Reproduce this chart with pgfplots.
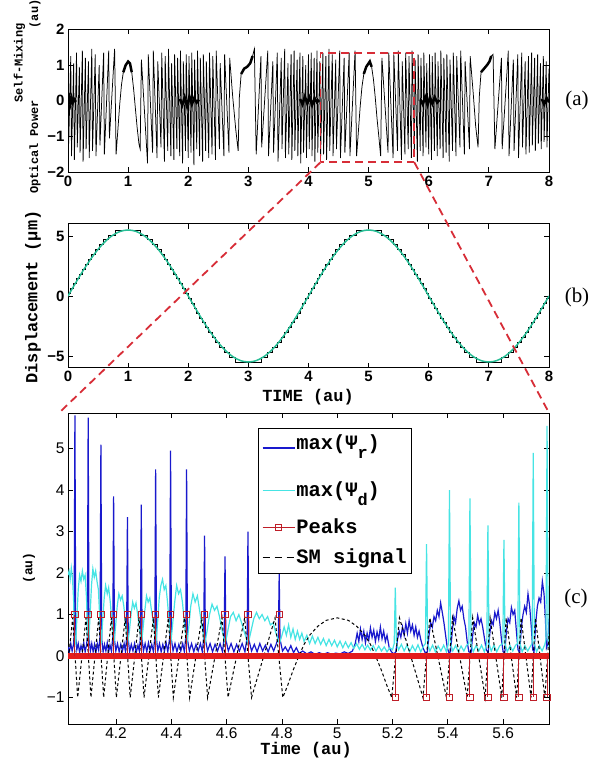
\documentclass[border=0pt]{standalone}
\usepackage{fontspec}
\usepackage{pgfplots}
\pgfplotsset{compat=1.18}

\newfontfamily\mono{Liberation Mono}
\newfontfamily\hel{Liberation Sans}
\newfontfamily\tim{Liberation Serif}

\definecolor{psir}{RGB}{25,25,205}
\definecolor{psid}{RGB}{70,228,228}
\definecolor{pkred}{RGB}{228,28,28}
\definecolor{pkdark}{RGB}{190,30,40}
\definecolor{dispgreen}{RGB}{40,190,150}
\definecolor{zoomred}{RGB}{215,45,55}

\tikzset{legshift/.store in=\legshift, legshift=6bp}

\pgfplotsset{
  panel/.style={
    scale only axis, width=481bp, anchor=south west,
    axis line style={line width=1bp},
    every tick/.style={black, line width=0.8bp},
    major tick length=5bp,
    tick align=inside,
    /pgf/number format/assume math mode=true,
  },
  boldticks/.style={ticklabel style={font=\hel\bfseries\fontsize{15}{18}\selectfont}},
}

\begin{document}
\begin{tikzpicture}[x=1bp,y=1bp]
\path[use as bounding box] (0bp,0bp) rectangle (589bp,758bp);

% ---------------- (a) self-mixing signal
\begin{axis}[panel, boldticks, at={(68bp,585.7bp)}, height=143bp,
  xmin=0, xmax=8, ymin=-2, ymax=2,
  xtick={0,1,2,3,4,5,6,7,8}, ytick={-2,-1,0,1,2}, yticklabels={−2,−1,0,1,2}]
\addplot[black, line width=0.75bp] coordinates {
(0,1.3)(0.012,-1.2)(0.046,1.25)(0.058,-1.55)(0.094,1.05)(0.106,-1.65)(0.142,1.35)(0.154,-1.3)(0.189,0.95)(0.201,-1.45)
(0.239,1.4)(0.251,-1.7)(0.289,1.2)(0.301,-1.35)(0.341,1.1)(0.353,-1.6)(0.396,1.45)(0.408,-1.4)(0.453,1.3)(0.465,-1.55)
(0.519,1.0)(0.531,-1.25)(0.593,1.35)(0.605,-1.5)(0.677,1.4)(0.689,-1.05)(0.775,1.45)(0.8,-1.5)
(0.83,-0.8)(0.86,-0.1)(0.89,0.45)(0.92,0.8)(0.96,1.0)(1.0,1.1)(1.03,1.05)(1.06,0.8)(1.09,0.35)(1.12,-0.2)(1.15,-0.75)(1.18,-1.2)(1.2,-1.35)
(1.221,1.15)(1.323,-1.75)(1.335,1.3)(1.407,-1.45)(1.419,1.4)(1.481,-1.6)(1.493,1.1)(1.547,-1.3)(1.559,1.35)(1.604,-1.7)
(1.616,1.25)(1.659,-1.4)(1.671,1.45)(1.711,-1.55)(1.723,1.05)(1.761,-1.65)(1.773,1.3)(1.811,-1.35)(1.823,1.2)(1.858,-1.55)
(1.87,1.4)(1.906,-1.75)(1.918,1.1)(1.954,-1.4)(1.966,1.3)(2.0,-1.6)(2.012,1.25)(2.046,-1.45)(2.058,1.35)(2.094,-1.8)
(2.106,1.15)(2.142,-1.35)(2.154,1.4)(2.189,-1.55)(2.201,1.2)(2.239,-1.7)(2.251,1.3)(2.289,-1.4)(2.301,1.1)(2.341,-1.6)
(2.353,1.35)(2.396,-1.5)(2.408,1.25)(2.453,-1.65)(2.465,1.4)(2.519,-1.35)(2.531,1.05)(2.593,-1.55)(2.605,1.3)(2.677,-1.45)(2.689,1.2)
(2.74,0.1)(2.79,-0.8)(2.83,-1.4)(2.85,0.1)(2.88,0.75)(2.93,0.9)(2.98,0.95)(3.03,1.05)(3.07,1.25)(3.1,1.45)(3.13,-1.5)
(3.209,1.25)(3.221,-1.3)(3.323,1.4)(3.335,-1.55)(3.407,1.1)(3.419,-1.45)(3.481,1.35)(3.493,-1.7)(3.547,1.2)(3.559,-1.35)
(3.604,1.45)(3.616,-1.6)(3.659,1.05)(3.671,-1.5)(3.711,1.3)(3.723,-1.65)(3.761,1.4)(3.773,-1.4)(3.811,1.15)(3.823,-1.55)
(3.858,1.35)(3.87,-1.75)(3.906,1.25)(3.918,-1.45)(3.954,1.0)(3.966,-1.6)(4.0,1.3)(4.012,-1.35)(4.046,1.35)(4.058,-1.55)
(4.094,1.2)(4.106,-1.7)(4.142,1.4)(4.154,-1.45)(4.189,1.1)(4.201,-1.6)(4.239,1.35)(4.251,-1.5)(4.289,1.25)(4.301,-1.65)
(4.341,1.45)(4.353,-1.4)(4.396,1.3)(4.408,-1.55)(4.453,1.15)(4.465,-1.35)(4.519,1.4)(4.531,-1.6)(4.593,1.2)(4.605,-1.45)
(4.677,1.35)(4.689,-1.55)(4.775,1.4)(4.8,-1.55)
(4.83,-0.85)(4.86,-0.15)(4.89,0.4)(4.92,0.75)(4.96,0.95)(5.0,1.05)(5.02,1.1)(5.05,0.95)(5.08,0.6)(5.11,0.1)(5.14,-0.5)(5.17,-1.0)(5.2,-1.55)
(5.221,1.2)(5.323,-1.45)(5.335,1.35)(5.407,-1.6)(5.419,1.3)(5.481,-1.4)(5.493,1.4)(5.547,-1.65)(5.559,1.1)(5.604,-1.5)
(5.616,1.35)(5.659,-1.35)(5.671,1.25)(5.711,-1.6)(5.723,1.4)(5.761,-1.45)(5.773,1.15)(5.811,-1.7)(5.823,1.3)(5.858,-1.4)
(5.87,1.2)(5.906,-1.55)(5.918,1.35)(5.954,-1.3)(5.966,1.05)(6.0,-1.5)(6.012,1.3)(6.046,-1.65)(6.058,1.25)(6.094,-1.4)
(6.106,1.35)(6.142,-1.55)(6.154,1.1)(6.189,-1.35)(6.201,1.4)(6.239,-1.6)(6.251,1.2)(6.289,-1.45)(6.301,1.3)(6.341,-1.7)
(6.353,1.15)(6.396,-1.4)(6.408,1.35)(6.453,-1.55)(6.465,1.25)(6.519,-1.3)(6.531,1.4)(6.593,-1.5)(6.605,1.1)(6.677,-1.35)(6.689,1.25)
(6.74,0.2)(6.78,-0.7)(6.82,-1.3)(6.84,0.1)(6.87,0.8)(6.92,0.9)(6.97,1.0)(7.01,1.1)(7.04,1.25)(7.07,1.3)(7.1,-1.35)
(7.209,1.2)(7.221,-1.35)(7.323,1.4)(7.335,-1.55)(7.407,1.15)(7.419,-1.4)(7.481,1.3)(7.493,-1.6)(7.547,1.35)(7.559,-1.3)
(7.604,1.1)(7.616,-1.5)(7.659,1.25)(7.671,-1.45)(7.711,1.35)(7.723,-1.25)(7.761,1.2)(7.773,-1.4)(7.811,1.3)(7.823,-1.2)
(7.858,1.05)(7.87,-1.35)(7.906,1.25)(7.918,-1.15)(7.954,1.1)(7.966,-1.3)(8.0,0.9)
};
% noisy bands around zero and the thick tops of the slow fringes
\addplot[black, line width=2.5bp] coordinates {(0.0,0.0)(0.02,0.1)(0.04,-0.08)(0.06,0.08)(0.08,-0.05)(0.1,0.05)(0.13,-0.03)};
\addplot[black, line width=2.5bp] coordinates {(1.86,0.05)(1.9,-0.12)(1.94,0.1)(1.98,-0.15)(2.02,0.12)(2.06,-0.1)(2.1,0.08)(2.14,-0.05)(2.18,0.03)};
\addplot[black, line width=2.5bp] coordinates {(3.86,0.05)(3.9,-0.1)(3.94,0.12)(3.98,-0.08)(4.02,0.1)(4.06,-0.12)(4.1,0.08)(4.14,-0.04)(4.18,0.02)};
\addplot[black, line width=2.5bp] coordinates {(5.86,0.04)(5.9,-0.1)(5.94,0.1)(5.98,-0.12)(6.02,0.1)(6.06,-0.08)(6.1,0.1)(6.14,-0.05)(6.18,0.02)};
\addplot[black, line width=2.5bp] coordinates {(7.88,0.05)(7.92,-0.1)(7.96,0.08)(8.0,-0.04)};
\addplot[black, line width=2.5bp] coordinates {(0.92,0.8)(0.96,1.0)(1.0,1.1)(1.03,1.05)(1.06,0.8)};
\addplot[black, line width=2.5bp] coordinates {(2.88,0.75)(2.93,0.9)(2.98,0.95)(3.03,1.05)(3.07,1.25)};
\addplot[black, line width=2.5bp] coordinates {(4.92,0.75)(4.96,0.95)(5.0,1.05)(5.02,1.1)(5.05,0.95)};
\addplot[black, line width=2.5bp] coordinates {(6.87,0.8)(6.92,0.9)(6.97,1.0)(7.01,1.1)(7.04,1.25)};
\draw[zoomred, line width=1.8bp, dash pattern=on 8bp off 5bp] (axis cs:4.2,-1.72) rectangle (axis cs:5.76,1.34);
\coordinate (zl) at (axis cs:4.2,-1.72);
\coordinate (zr) at (axis cs:5.76,-1.72);
\end{axis}

% ---------------- (b) displacement
\begin{axis}[panel, boldticks, at={(68bp,390bp)}, height=144bp,
  xmin=0, xmax=8, ymin=-6, ymax=6,
  xtick={0,1,2,3,4,5,6,7,8}, ytick={-5,0,5}, yticklabels={−5,0,5}]
\addplot[black, line width=0.8bp, const plot] coordinates {
(0,0.2)(0.046,0.61)(0.094,1.02)(0.142,1.43)(0.189,1.84)(0.239,2.24)(0.289,2.65)(0.341,3.06)(0.396,3.47)(0.453,3.87)(0.519,4.28)(0.593,4.69)(0.677,5.09)(0.791,5.5)
(1.209,5.09)(1.323,4.69)(1.407,4.28)(1.481,3.87)(1.547,3.47)(1.604,3.06)(1.659,2.65)(1.711,2.24)(1.761,1.84)(1.811,1.43)(1.858,1.02)(1.906,0.61)(1.954,0.2)
(2.0,-0.2)(2.046,-0.61)(2.094,-1.02)(2.142,-1.43)(2.189,-1.84)(2.239,-2.24)(2.289,-2.65)(2.341,-3.06)(2.396,-3.47)(2.453,-3.87)(2.519,-4.28)(2.593,-4.69)(2.677,-5.09)(2.791,-5.5)
(3.209,-5.09)(3.323,-4.69)(3.407,-4.28)(3.481,-3.87)(3.547,-3.47)(3.604,-3.06)(3.659,-2.65)(3.711,-2.24)(3.761,-1.84)(3.811,-1.43)(3.858,-1.02)(3.906,-0.61)(3.954,-0.2)
(4.0,0.2)(4.046,0.61)(4.094,1.02)(4.142,1.43)(4.189,1.84)(4.239,2.24)(4.289,2.65)(4.341,3.06)(4.396,3.47)(4.453,3.87)(4.519,4.28)(4.593,4.69)(4.677,5.09)(4.791,5.5)
(5.209,5.09)(5.323,4.69)(5.407,4.28)(5.481,3.87)(5.547,3.47)(5.604,3.06)(5.659,2.65)(5.711,2.24)(5.761,1.84)(5.811,1.43)(5.858,1.02)(5.906,0.61)(5.954,0.2)
(6.0,-0.2)(6.046,-0.61)(6.094,-1.02)(6.142,-1.43)(6.189,-1.84)(6.239,-2.24)(6.289,-2.65)(6.341,-3.06)(6.396,-3.47)(6.453,-3.87)(6.519,-4.28)(6.593,-4.69)(6.677,-5.09)(6.791,-5.5)
(7.209,-5.09)(7.323,-4.69)(7.407,-4.28)(7.481,-3.87)(7.547,-3.47)(7.604,-3.06)(7.659,-2.65)(7.711,-2.24)(7.761,-1.84)(7.811,-1.43)(7.858,-1.02)(7.906,-0.61)(7.954,-0.2)
(8.0,0.0)
};
\addplot[dispgreen, line width=1.5bp, smooth] coordinates {
(0,0)(0.125,1.073)(0.25,2.105)(0.375,3.056)(0.5,3.889)(0.625,4.573)(0.75,5.081)(0.875,5.394)(1,5.5)
(1.125,5.394)(1.25,5.081)(1.375,4.573)(1.5,3.889)(1.625,3.056)(1.75,2.105)(1.875,1.073)(2,0)
(2.125,-1.073)(2.25,-2.105)(2.375,-3.056)(2.5,-3.889)(2.625,-4.573)(2.75,-5.081)(2.875,-5.394)(3,-5.5)
(3.125,-5.394)(3.25,-5.081)(3.375,-4.573)(3.5,-3.889)(3.625,-3.056)(3.75,-2.105)(3.875,-1.073)(4,0)
(4.125,1.073)(4.25,2.105)(4.375,3.056)(4.5,3.889)(4.625,4.573)(4.75,5.081)(4.875,5.394)(5,5.5)
(5.125,5.394)(5.25,5.081)(5.375,4.573)(5.5,3.889)(5.625,3.056)(5.75,2.105)(5.875,1.073)(6,0)
(6.125,-1.073)(6.25,-2.105)(6.375,-3.056)(6.5,-3.889)(6.625,-4.573)(6.75,-5.081)(6.875,-5.394)(7,-5.5)
(7.125,-5.394)(7.25,-5.081)(7.375,-4.573)(7.5,-3.889)(7.625,-3.056)(7.75,-2.105)(7.875,-1.073)(8,0)
};
\end{axis}

% ---------------- (c) zoom on the fringes
\begin{axis}[panel, at={(68bp,34bp)}, height=311bp,
  xmin=4.026, xmax=5.766, ymin=-1.64, ymax=5.86,
  xtick={4.2,4.4,4.6,4.8,5,5.2,5.4,5.6},
  ytick={-1,0,1,2,3,4,5}, yticklabels={−1,0,1,2,3,4,5},
  ticklabel style={font=\hel\fontsize{15.5}{18}\selectfont},
  legend image code/.code={\path (0bp,0bp) (32bp,0bp);
    \draw[mark repeat=2,mark phase=2,#1] plot coordinates {(0bp,\legshift) (16bp,\legshift) (32bp,\legshift)};},
  legend style={at={(0.394,0.952)}, anchor=north west, draw=black, line width=0.9bp, fill=white,
    inner xsep=4bp, inner ysep=0bp, row sep=0bp,
    font=\mono\bfseries\fontsize{20.5}{24}\selectfont,
    nodes={inner xsep=1bp, inner ysep=0bp, text depth=, text height=}, cells={anchor=base west}}]
\addlegendimage{psir, line width=1.3bp, legshift=1.5bp}
\addlegendentry{\rule[-30bp]{0pt}{51bp}max(Ψ\raisebox{-9bp}{\fontsize{17}{17}\selectfont r})}
\addlegendimage{psid, line width=1.3bp, legshift=6bp}
\addlegendentry{\rule[-20bp]{0pt}{37bp}max(Ψ\raisebox{-9bp}{\fontsize{17}{17}\selectfont d})}
\addlegendimage{pkdark, line width=1bp, mark=square, mark size=3bp, mark options={solid}, legshift=6bp}
\addlegendentry{\rule[-13bp]{0pt}{30bp}Peaks}
\addlegendimage{black, line width=1bp, dash pattern=on 7bp off 5bp, legshift=6bp}
\addlegendentry{\rule[-10bp]{0pt}{27bp}SM signal}

% max(Psi_r)
\addplot[psir, line width=1.2bp, forget plot] coordinates {
(4.026,0.22)(4.031,0.1)(4.036,0.3)(4.041,0.12)(4.046,0.28)(4.048,0.45)(4.051,5.8)(4.054,0.45)(4.058,0.15)(4.063,0.3)
(4.068,0.08)(4.073,0.25)(4.078,0.12)(4.083,0.32)(4.088,0.1)(4.093,0.26)(4.096,0.45)(4.099,5.75)(4.102,0.45)(4.107,0.12)
(4.112,0.3)(4.117,0.1)(4.122,0.28)(4.127,0.08)(4.132,0.3)(4.137,0.14)(4.142,0.45)(4.145,5.1)(4.148,0.4)(4.153,0.1)
(4.158,0.28)(4.163,0.12)(4.168,0.32)(4.173,0.1)(4.178,0.26)(4.183,0.12)(4.188,0.45)(4.191,3.85)(4.194,0.4)(4.199,0.12)
(4.205,0.3)(4.211,0.1)(4.217,0.28)(4.223,0.12)(4.229,0.3)(4.234,0.1)(4.238,0.45)(4.241,3.35)(4.244,0.4)(4.249,0.1)
(4.255,0.28)(4.261,0.12)(4.267,0.3)(4.273,0.08)(4.279,0.26)(4.284,0.12)(4.288,0.45)(4.291,3.65)(4.294,0.4)(4.299,0.12)
(4.305,0.3)(4.311,0.1)(4.317,0.32)(4.323,0.12)(4.329,0.28)(4.335,0.1)(4.340,0.45)(4.343,4.5)(4.346,0.4)(4.351,0.12)
(4.357,0.3)(4.363,0.1)(4.369,0.28)(4.375,0.12)(4.381,0.32)(4.387,0.1)(4.394,0.45)(4.397,4.95)(4.400,0.4)(4.406,0.12)
(4.413,0.3)(4.420,0.1)(4.427,0.28)(4.434,0.12)(4.441,0.3)(4.447,0.1)(4.452,0.45)(4.455,4.5)(4.458,0.4)(4.465,0.12)
(4.473,0.3)(4.481,0.1)(4.489,0.28)(4.497,0.12)(4.505,0.3)(4.512,0.1)(4.517,0.45)(4.520,2.9)(4.523,0.4)(4.531,0.12)
(4.540,0.3)(4.549,0.1)(4.558,0.28)(4.567,0.12)(4.576,0.3)(4.585,0.1)(4.591,0.45)(4.594,2.4)(4.597,0.4)(4.606,0.12)
(4.616,0.3)(4.626,0.1)(4.636,0.28)(4.646,0.12)(4.656,0.3)(4.666,0.1)(4.674,0.45)(4.677,3.0)(4.680,0.4)(4.690,0.12)
(4.700,0.28)(4.710,0.1)(4.720,0.3)(4.730,0.12)(4.740,0.26)(4.750,0.1)(4.760,0.28)(4.770,0.12)(4.780,0.3)(4.787,0.45)
(4.790,2.0)(4.793,0.4)(4.802,0.12)(4.812,0.22)(4.822,0.1)(4.832,0.25)(4.842,0.08)(4.852,0.2)(4.862,0.06)(4.875,0.12)
(4.890,0.05)(4.905,0.1)(4.920,0.04)(4.935,0.08)(4.950,0.04)(4.965,0.08)(4.980,0.04)(4.995,0.07)(5.010,0.05)(5.025,0.1)
(5.040,0.06)(5.055,0.12)(5.065,0.3)(5.072,0.55)(5.078,0.35)(5.084,0.65)(5.090,0.4)(5.096,0.6)(5.102,0.32)(5.108,0.55)
(5.114,0.38)(5.120,0.68)(5.126,0.45)(5.132,0.62)(5.138,0.35)(5.144,0.58)(5.150,0.4)(5.156,0.7)(5.162,0.42)(5.168,0.6)
(5.174,0.35)(5.180,0.5)(5.188,0.2)(5.196,0.1)(5.205,0.05)(5.212,0.1)(5.218,0.4)(5.224,0.6)(5.230,0.45)(5.236,0.7)
(5.242,0.5)(5.248,0.78)(5.254,0.55)(5.260,0.85)(5.266,0.6)(5.272,0.75)(5.278,0.5)(5.284,0.7)(5.290,0.45)(5.296,0.6)
(5.302,0.4)(5.310,0.2)(5.318,0.08)(5.326,0.1)(5.332,0.5)(5.338,0.8)(5.344,0.7)(5.350,0.95)(5.356,0.85)(5.362,1.1)
(5.368,0.95)(5.374,1.28)(5.380,1.05)(5.386,0.8)(5.392,0.5)(5.398,0.2)(5.404,0.08)(5.410,0.1)(5.416,0.6)(5.422,0.95)
(5.428,0.8)(5.434,1.15)(5.440,1.33)(5.446,1.1)(5.452,1.2)(5.458,0.9)(5.464,0.7)(5.470,0.35)(5.476,0.1)(5.484,0.08)
(5.490,0.5)(5.496,0.8)(5.502,0.7)(5.508,0.98)(5.514,0.78)(5.520,0.9)(5.526,0.7)(5.532,0.45)(5.539,0.15)(5.546,0.08)
(5.552,0.55)(5.558,0.85)(5.564,0.75)(5.570,1.05)(5.576,0.9)(5.582,1.1)(5.588,0.8)(5.594,0.4)(5.600,0.1)(5.606,0.08)
(5.612,0.6)(5.618,0.9)(5.624,0.8)(5.630,1.17)(5.636,1.0)(5.642,1.1)(5.648,0.6)(5.654,0.15)(5.660,0.08)(5.666,0.7)
(5.672,1.0)(5.678,1.2)(5.684,1.05)(5.690,1.5)(5.696,1.2)(5.702,0.7)(5.707,0.15)(5.712,0.1)(5.718,0.8)(5.724,1.2)
(5.730,1.4)(5.736,1.3)(5.742,1.8)(5.748,1.5)(5.753,0.9)(5.757,0.2)(5.762,0.3)(5.766,0.9)
};
% max(Psi_d)
\addplot[psid, line width=1.2bp, forget plot] coordinates {
(4.026,1.95)(4.030,2.05)(4.034,1.85)(4.038,2.12)(4.042,1.9)(4.046,1.4)(4.050,0.4)(4.054,0.3)
(4.058,0.9)(4.063,1.6)(4.068,1.95)(4.073,1.8)(4.078,2.05)(4.083,1.85)(4.088,1.95)(4.093,1.4)(4.097,0.5)(4.101,0.3)
(4.106,1.0)(4.111,1.7)(4.116,2.1)(4.121,1.9)(4.126,2.05)(4.131,1.8)(4.136,1.6)(4.141,0.9)(4.146,0.3)
(4.151,0.8)(4.157,1.4)(4.162,1.7)(4.168,1.5)(4.173,1.65)(4.179,1.3)(4.185,0.8)(4.192,0.3)
(4.198,0.7)(4.204,1.2)(4.210,1.5)(4.216,1.35)(4.222,1.45)(4.228,1.2)(4.234,0.8)(4.242,0.3)
(4.248,0.6)(4.254,1.0)(4.260,1.3)(4.266,1.15)(4.272,1.28)(4.278,1.0)(4.284,0.7)(4.292,0.3)
(4.298,0.7)(4.304,1.1)(4.310,1.45)(4.316,1.3)(4.322,1.4)(4.328,1.1)(4.335,0.8)(4.344,0.3)
(4.350,0.8)(4.356,1.4)(4.362,1.7)(4.368,1.85)(4.374,1.6)(4.380,1.7)(4.386,1.3)(4.392,0.8)(4.398,0.3)
(4.405,0.8)(4.412,1.3)(4.419,1.7)(4.426,1.5)(4.433,1.6)(4.440,1.3)(4.447,0.8)(4.456,0.3)
(4.463,0.7)(4.470,1.2)(4.478,1.5)(4.486,1.3)(4.494,1.45)(4.502,1.1)(4.511,0.7)(4.521,0.3)
(4.529,0.6)(4.538,1.0)(4.547,1.25)(4.556,1.1)(4.565,1.2)(4.574,0.95)(4.584,0.6)(4.595,0.3)
(4.604,0.6)(4.614,0.95)(4.624,1.05)(4.634,0.85)(4.644,1.0)(4.654,0.8)(4.665,0.55)(4.678,0.3)
(4.688,0.6)(4.698,0.9)(4.708,1.05)(4.718,0.9)(4.728,1.0)(4.738,0.85)(4.748,0.95)(4.758,0.75)(4.768,0.8)(4.778,0.55)(4.791,0.3)
(4.800,0.5)(4.808,0.7)(4.816,0.5)(4.824,0.75)(4.832,0.45)(4.840,0.65)(4.848,0.4)(4.856,0.6)(4.864,0.4)(4.872,0.55)
(4.880,0.35)(4.890,0.5)(4.900,0.3)(4.910,0.48)(4.920,0.3)(4.930,0.45)(4.940,0.28)(4.950,0.42)(4.960,0.25)(4.970,0.4)
(4.980,0.25)(4.990,0.38)(5.000,0.22)(5.010,0.36)(5.020,0.2)(5.030,0.34)(5.040,0.2)(5.050,0.32)(5.060,0.18)(5.070,0.3)
(5.080,0.16)(5.090,0.28)(5.100,0.15)(5.110,0.26)(5.120,0.14)(5.130,0.25)(5.140,0.12)(5.150,0.24)(5.160,0.12)(5.170,0.22)
(5.180,0.1)(5.190,0.2)(5.200,0.15)
(5.206,0.3)(5.210,1.65)(5.214,0.3)(5.222,0.15)(5.232,0.28)(5.242,0.12)(5.252,0.26)(5.262,0.1)(5.272,0.25)(5.282,0.12)
(5.292,0.27)(5.302,0.1)(5.312,0.24)(5.319,0.3)(5.323,2.7)(5.327,0.3)(5.335,0.12)(5.345,0.26)(5.355,0.1)(5.365,0.24)
(5.375,0.12)(5.385,0.26)(5.395,0.1)(5.402,0.3)(5.406,4.0)(5.410,0.3)(5.418,0.12)(5.428,0.25)(5.438,0.1)(5.448,0.24)
(5.458,0.12)(5.468,0.26)(5.476,0.3)(5.480,3.8)(5.484,0.3)(5.492,0.1)(5.502,0.25)(5.512,0.12)(5.522,0.26)(5.532,0.1)
(5.541,0.3)(5.545,3.15)(5.549,0.3)(5.557,0.12)(5.567,0.26)(5.577,0.1)(5.587,0.24)(5.599,0.3)(5.603,2.8)(5.607,0.3)
(5.615,0.1)(5.625,0.25)(5.635,0.12)(5.645,0.26)(5.653,0.3)(5.657,3.7)(5.661,0.3)(5.669,0.1)(5.679,0.25)(5.689,0.12)
(5.699,0.24)(5.705,0.3)(5.709,4.9)(5.713,0.3)(5.721,0.1)(5.731,0.25)(5.741,0.12)(5.751,0.28)(5.755,0.4)(5.759,5.55)
(5.763,0.4)(5.766,0.2)
};
% SM signal
\addplot[black, line width=1bp, dash pattern=on 3bp off 2.5bp, forget plot] coordinates {
(4.026,-0.17)(4.043,0.92)(4.061,-1)(4.091,0.92)(4.109,-1)(4.137,0.92)(4.155,-1)(4.183,0.92)(4.201,-1)(4.233,0.92)
(4.251,-1)(4.283,0.92)(4.301,-1)(4.335,0.92)(4.353,-1)(4.389,0.92)(4.407,-1)(4.447,0.92)(4.466,-1)(4.510,0.92)
(4.531,-1)(4.583,0.92)(4.605,-1)(4.665,0.92)(4.690,-1)(4.775,0.92)(4.803,-1)
(4.82,-0.72)(4.84,-0.35)(4.86,-0.02)(4.88,0.28)(4.90,0.5)(4.93,0.72)(4.96,0.86)(5.0,0.92)(5.04,0.86)(5.07,0.72)
(5.10,0.5)(5.12,0.28)(5.14,-0.02)(5.16,-0.35)(5.18,-0.72)(5.197,-1)
(5.225,0.92)(5.310,-1)(5.335,0.92)(5.395,-1)(5.417,0.92)(5.470,-1)(5.490,0.92)(5.535,-1)(5.553,0.92)(5.595,-1)
(5.611,0.92)(5.649,-1)(5.665,0.92)(5.701,-1)(5.717,0.92)(5.751,-1)(5.766,0.5)
};
% Peaks: dense zero samples and the detected peaks
\addplot[pkred, line width=6bp, forget plot] coordinates {(4.026,0)(5.766,0)};
\addplot[pkdark, line width=0.9bp, ycomb, mark=square, mark size=3.2bp, mark options={solid, line width=1bp}, forget plot] coordinates {
(4.051,1)(4.099,1)(4.145,1)(4.191,1)(4.241,1)(4.291,1)(4.343,1)(4.397,1)(4.455,1)(4.520,1)(4.594,1)(4.677,1)(4.790,1)
(5.210,-1)(5.323,-1)(5.406,-1)(5.480,-1)(5.545,-1)(5.603,-1)(5.657,-1)(5.709,-1)(5.759,-1)
};
\end{axis}

% zoom lines from the box in (a) to panel (c)
\draw[zoomred, line width=1.8bp, dash pattern=on 8bp off 5bp] (zl) -- (61bp,347bp);
\draw[zoomred, line width=1.8bp, dash pattern=on 8bp off 5bp] (zr) -- (548bp,347bp);

% axis labels
\node[rotate=90, font=\mono\bfseries\fontsize{12}{14}\selectfont] at (19.5bp,695bp) {Self-Mixing};
\node[rotate=90, font=\mono\bfseries\fontsize{12}{14}\selectfont] at (35bp,611bp) {Optical Power};
\node[rotate=90, font=\mono\bfseries\fontsize{12}{14}\selectfont] at (35bp,744bp) {(au)};
\node[rotate=90, font=\mono\bfseries\fontsize{17}{19}\selectfont] at (33bp,461bp) {Displacement (μm)};
\node[font=\mono\bfseries\fontsize{17}{19}\selectfont] at (308bp,361bp) {TIME (au)};
\node[rotate=90, font=\mono\bfseries\fontsize{13}{15}\selectfont] at (29bp,190bp) {(au)};
\node[font=\mono\bfseries\fontsize{17}{19}\selectfont] at (306bp,8bp) {Time (au)};

% panel tags
\node[font=\tim\fontsize{21}{24}\selectfont] at (577bp,658bp) {(a)};
\node[font=\tim\fontsize{21}{24}\selectfont] at (577bp,461bp) {(b)};
\node[font=\tim\fontsize{21}{24}\selectfont] at (576bp,160bp) {(c)};
\end{tikzpicture}
\end{document}
